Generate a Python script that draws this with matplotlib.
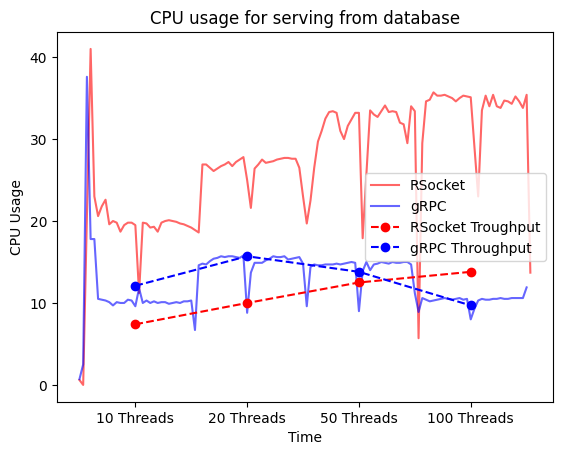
import matplotlib
matplotlib.use("Agg")
import matplotlib.pyplot as plt
import numpy as np

# CPU usage samples for RSocket
rsocket_cpu = [0.6, 0.0, 20.5, 41.0, 23.0, 20.6, 21.8, 22.6, 19.6, 20.0,
               19.8, 18.7, 19.5, 19.8, 19.8, 19.5, 11.2, 19.8, 19.7, 19.2,
               19.3, 18.7, 19.8, 20.0, 20.1, 20.0, 19.9, 19.7, 19.6, 19.4,
               19.2, 18.9, 18.6, 26.9, 26.9, 26.5, 26.1, 26.4, 26.7, 26.9,
               27.2, 26.7, 27.2, 27.5, 27.8, 25.0, 21.6, 26.4, 26.9, 27.5,
               27.1, 27.2, 27.3, 27.5, 27.6, 27.7, 27.7, 27.6, 27.6, 26.5,
               23.0, 19.7, 22.5, 26.5, 29.7, 31.0, 32.5, 33.3, 33.4, 33.2,
               31.0, 30.0, 31.6, 32.4, 33.2, 33.2, 17.9, 25.7, 33.5, 33.0,
               32.7, 33.4, 34.1, 33.3, 33.4, 33.3, 32.0, 31.8, 29.5, 34.0,
               33.4, 5.7, 29.5, 34.6, 34.8, 35.7, 35.3, 35.3, 35.4, 35.2,
               35.0, 34.6, 35.0, 35.3, 35.2, 35.1, 29.0, 23.0, 33.5, 35.3,
               34.0, 35.4, 34.0, 33.8, 34.7, 34.6, 34.3, 35.2, 34.6, 33.8,
               35.4, 13.7]

# CPU usage samples for gRPC
grpc_cpu = [0.7, 2.5, 37.6, 17.8, 17.8, 10.5, 10.4, 10.3, 10.1, 9.7,
            10.1, 10.0, 10.0, 10.4, 10.3, 9.6, 11.8, 10.0, 10.3, 10.0,
            10.2, 10.0, 10.1, 10.1, 9.9, 10.0, 10.1, 10.0, 10.2, 10.2,
            10.3, 6.7, 14.6, 14.8, 14.7, 15.1, 15.4, 15.5, 15.7, 15.6,
            15.7, 15.7, 15.6, 15.5, 15.8, 8.8, 13.7, 14.9, 14.9, 14.9,
            15.2, 15.4, 15.7, 15.6, 15.6, 15.7, 15.3, 15.4, 15.5, 15.6,
            14.8, 9.6, 14.4, 14.7, 14.6, 14.6, 14.7, 14.7, 14.7, 14.8,
            14.7, 14.8, 14.9, 15.0, 14.9, 9.0, 13.9, 15.0, 14.0, 14.7,
            14.8, 15.0, 14.9, 14.8, 15.0, 14.9, 14.9, 15.0, 15.0, 14.7,
            11.2, 8.9, 10.6, 10.4, 10.2, 10.3, 10.4, 10.5, 10.6, 10.5,
            10.4, 10.5, 10.6, 10.4, 10.5, 8.0, 9.3, 10.3, 10.5, 10.4,
            10.4, 10.5, 10.5, 10.6, 10.5, 10.5, 10.6, 10.6, 10.6, 10.6,
            11.9]

# throughput per thread count, and the sample index where each run starts
thread_labels = ['10 Threads', '20 Threads', '50 Threads', '100 Threads']
thread_index = [15, 45, 75, 105]
rsocket_throughput = [7.4, 10.0, 12.5, 13.8]
grpc_throughput = [12.1, 15.7, 13.8, 9.7]


def plot():
    plt.figure()
    plt.plot(np.arange(len(rsocket_cpu)), rsocket_cpu, color='red', alpha=0.6, label='RSocket')
    plt.plot(np.arange(len(grpc_cpu)), grpc_cpu, color='blue', alpha=0.6, label='gRPC')
    plt.plot(thread_index, rsocket_throughput, 'r--o', label='RSocket Troughput')
    plt.plot(thread_index, grpc_throughput, 'b--o', label='gRPC Throughput')
    plt.xticks(thread_index, thread_labels)
    plt.xlabel('Time')
    plt.ylabel('CPU Usage')
    plt.title('CPU usage for serving from database')
    plt.legend(loc='center right')
    plt.savefig('out.png', bbox_inches='tight')


if __name__ == "__main__":
    plot()
